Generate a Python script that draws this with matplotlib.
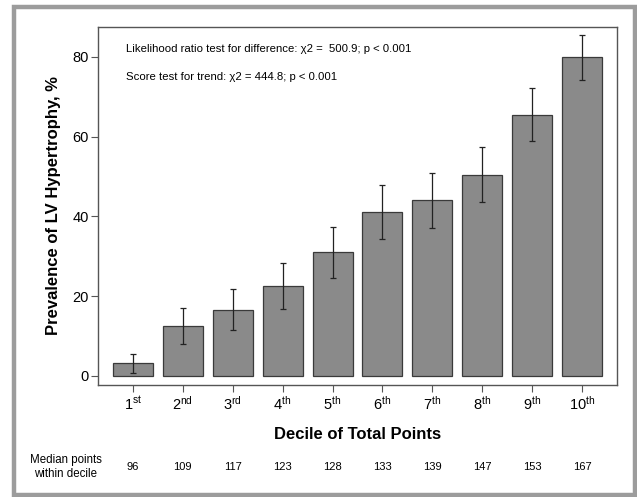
import matplotlib
matplotlib.use("Agg")
import matplotlib.pyplot as plt
from matplotlib.patches import Rectangle
from matplotlib.transforms import blended_transform_factory
import numpy as np

plt.rcParams['font.family'] = ['Liberation Sans', 'DejaVu Sans']
plt.rcParams['mathtext.fontset'] = 'custom'
plt.rcParams['mathtext.rm'] = 'Liberation Sans'
plt.rcParams['mathtext.it'] = 'Liberation Sans'

# Data
deciles = ["1", "2", "3", "4", "5", "6", "7", "8", "9", "10"]
suffixes = ["st", "nd", "rd", "th", "th", "th", "th", "th", "th", "th"]
prevalence = [3.1, 12.5, 16.6, 22.5, 31.0, 41.0, 44.0, 50.5, 65.5, 79.9]
ci_lower = [0.75, 8.0, 11.4, 16.7, 24.5, 34.2, 37.0, 43.6, 58.9, 74.3]
ci_upper = [5.4, 17.1, 21.7, 28.4, 37.4, 47.9, 50.8, 57.5, 72.1, 85.5]
median_points = [96, 109, 117, 123, 128, 133, 139, 147, 153, 167]
yticks = [0, 20, 40, 60, 80]

W, H = 637, 497
fig = plt.figure(figsize=(W / 100, H / 100), dpi=100)

# outer frame
fig.patches.append(Rectangle((13.5 / W, 1 - 494.5 / H), (634.5 - 13.5) / W, (494.5 - 7) / H,
                             transform=fig.transFigure, fill=False,
                             edgecolor='#9c9c9c', linewidth=3.2))

ax = fig.add_axes([98.3 / W, 1 - 385 / H, (616.7 - 98.3) / W, (385 - 26.7) / H])

x = np.arange(1, len(deciles) + 1)
prev = np.array(prevalence)
yerr = np.vstack([prev - np.array(ci_lower), np.array(ci_upper) - prev])

ax.bar(x, prev, width=0.8, color='#8a8a8a', edgecolor='#3a3a3a', linewidth=0.9, zorder=2)
ax.errorbar(x, prev, yerr=yerr, fmt='none', ecolor='#222222', elinewidth=0.9,
            capsize=2.5, capthick=0.9, zorder=3)

ax.set_xlim(0.31, 10.69)
ax.set_ylim(-2.33, 87.6)
ax.set_yticks(yticks)
ax.set_yticklabels([str(v) for v in yticks], fontsize=10.5)
ax.set_xticks(x)
ax.set_xticklabels([d + r'$^{\mathrm{' + s + '}}$' for d, s in zip(deciles, suffixes)],
                   fontsize=10.5)
ax.tick_params(axis='both', length=5, width=0.8, color='#555555', pad=2)
for sp in ax.spines.values():
    sp.set_color('#555555')
    sp.set_linewidth(1.0)

ax.set_ylabel('Prevalence of LV Hypertrophy, %', fontsize=12, fontweight='bold', labelpad=8)
ax.set_xlabel('Decile of Total Points', fontsize=12, fontweight='bold', labelpad=10)

ax.text(125.7 / W, 1 - 49.3 / H,
        'Likelihood ratio test for difference: \u03c72 =  500.9; p < 0.001',
        transform=fig.transFigure, fontsize=8.2, va='center', ha='left')
ax.text(125.7 / W, 1 - 76.7 / H,
        'Score test for trend: \u03c72 = 444.8; p < 0.001',
        transform=fig.transFigure, fontsize=8.2, va='center', ha='left')

trans = blended_transform_factory(ax.transData, fig.transFigure)
for xi, m in zip(x, median_points):
    ax.text(xi, 1 - 467.3 / H, str(m), transform=trans, fontsize=8,
            ha='center', va='center', clip_on=False)
fig.text(65.7 / W, 1 - 467.3 / H, 'Median points\nwithin decile', fontsize=8.3,
         ha='center', va='center', linespacing=1.2)

fig.savefig('out.png', dpi=100)
